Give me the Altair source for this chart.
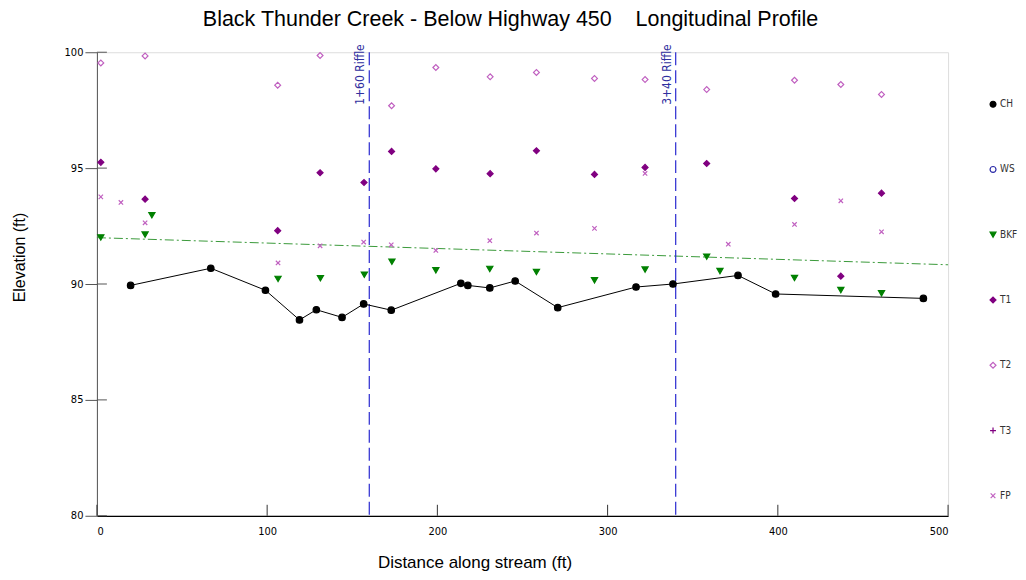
import altair as alt
import pandas as pd

# ---------------- data ----------------
series_names = ["CH", "WS", "BKF", "T1", "T2", "T3", "FP"]

ch_x = [19.8, 66.9, 99.0, 119.0, 128.9, 144.0, 156.7, 172.9, 213.8, 217.9, 230.8, 245.7, 270.7, 316.7, 338.4, 376.6, 398.7, 485.5]
ch_y = [89.94, 90.68, 89.73, 88.45, 88.89, 88.56, 89.14, 88.87, 90.03, 89.94, 89.83, 90.13, 88.98, 89.87, 90.00, 90.37, 89.57, 89.38]

bkf_x = [2.3, 28.3, 32.3, 106.4, 131.3, 157.1, 173.3, 199.1, 230.8, 258.2, 292.3, 322.0, 358.2, 366.0, 409.8, 437.0, 460.9]
bkf_y = [92.01, 92.13, 92.97, 90.22, 90.25, 90.40, 90.96, 90.59, 90.65, 90.52, 90.16, 90.62, 91.18, 90.56, 90.26, 89.74, 89.60]

t1_x = [2.3, 28.3, 106.2, 131.1, 156.9, 173.1, 199.1, 231.0, 258.2, 292.3, 322.0, 358.2, 409.8, 437.0, 460.9]
t1_y = [95.25, 93.66, 92.30, 94.80, 94.38, 95.72, 94.97, 94.76, 95.75, 94.73, 95.03, 95.20, 93.69, 90.34, 93.92]

t2_x = [2.3, 28.3, 106.2, 131.1, 173.1, 199.1, 231.0, 258.2, 292.3, 322.0, 358.2, 409.8, 437.0, 460.9]
t2_y = [99.54, 99.84, 98.58, 99.86, 97.69, 99.34, 98.94, 99.13, 98.87, 98.82, 98.39, 98.79, 98.61, 98.18]

fp_x = [2.3, 14.1, 28.3, 106.4, 131.1, 156.7, 172.9, 199.1, 230.8, 258.2, 292.3, 322.0, 370.9, 409.8, 437.0, 460.9]
fp_y = [93.76, 93.52, 92.64, 90.91, 91.65, 91.81, 91.69, 91.45, 91.87, 92.20, 92.40, 94.77, 91.72, 92.57, 93.59, 92.25]

fit_x = [0, 500]
fit_y = [92.0, 90.83]

riffle_x = [160, 340]
riffle_labels = ["1+60 Riffle", "3+40 Riffle"]

x_ticks = [0, 100, 200, 300, 400, 500]
y_ticks = [80, 85, 90, 95, 100]

# ---------------- tables ----------------
rows = []
for name, xs, ys in [("CH", ch_x, ch_y), ("BKF", bkf_x, bkf_y), ("T1", t1_x, t1_y),
                     ("T2", t2_x, t2_y), ("FP", fp_x, fp_y)]:
    for a, b in zip(xs, ys):
        rows.append({"series": name, "x": a, "y": b})
pts = pd.DataFrame(rows)
ch_df = pd.DataFrame({"x": ch_x, "y": ch_y})
fit_df = pd.DataFrame({"x": fit_x, "y": fit_y})
rif_df = pd.DataFrame({"x": riffle_x, "label": riffle_labels, "top": [100] * len(riffle_x), "bot": [80] * len(riffle_x)})
xt_df = pd.DataFrame({"x": x_ticks})
yt_df = pd.DataFrame({"y": y_ticks})
leg_df = pd.DataFrame({"series": series_names})

W, H = 852, 464
FONT = "Liberation Sans"
NARROW = "Liberation Sans Narrow, DejaVu Sans Condensed, Liberation Sans"

xscale = alt.Scale(domain=[0, 500], nice=False, zero=False)
yscale = alt.Scale(domain=[80, 100], nice=False, zero=False)

xax = alt.Axis(values=x_ticks, ticks=False, grid=False, domainColor="#000000", domainWidth=1.2,
               labelFont=NARROW, labelFontSize=11, labelColor="#000000", labelPadding=10,
               title="Distance along stream (ft)", titleFont=FONT, titleFontSize=17,
               titleFontWeight="normal", titleColor="#000000", titleX=378, titleY=52,
               titleAnchor="start", titleAlign="center", titleBaseline="alphabetic")
yax = alt.Axis(values=y_ticks, ticks=True, tickSize=12, tickColor="#555555", grid=False,
               domainColor="#555555", labelFont=NARROW, labelFontSize=11, labelColor="#000000",
               labelPadding=2, title="Elevation (ft)", titleFont=FONT, titleFontSize=16,
               titleFontWeight="normal", titleColor="#000000", titleX=-77, titleY=205,
               titleAnchor="start", titleAlign="center", titleBaseline="middle", titleAngle=270)

X = alt.X("x:Q", scale=xscale, axis=xax)
Y = alt.Y("y:Q", scale=yscale, axis=yax)

# inward tick marks
xtick = alt.Chart(xt_df).mark_rule(color="#333333", strokeWidth=1).encode(
    x=alt.X("x:Q", scale=xscale), y=alt.value(H), y2=alt.value(H - 11))
ytick = alt.Chart(yt_df).mark_rule(color="#555555", strokeWidth=1).encode(
    y=alt.Y("y:Q", scale=yscale), x=alt.value(0), x2=alt.value(10))

riffle = alt.Chart(rif_df).mark_rule(color="#2b2bd0", strokeWidth=1.2, strokeDash=[13, 5]).encode(
    x=alt.X("x:Q", scale=xscale), y=alt.Y("top:Q", scale=yscale), y2="bot:Q")
riffle_txt = alt.Chart(rif_df).mark_text(angle=270, align="right", baseline="bottom", dx=8, dy=-2,
                                         font=NARROW, fontSize=12, color="#3030a0").encode(
    x=alt.X("x:Q", scale=xscale), y=alt.Y("top:Q", scale=yscale), text="label:N")

fit = alt.Chart(fit_df).mark_line(color="#3a9a3a", strokeWidth=1, strokeDash=[9, 3, 2, 3]).encode(x=X, y=Y)
chline = alt.Chart(ch_df).mark_line(color="#000000", strokeWidth=1).encode(x=X, y=Y)

shapes = ["circle", "circle", "triangle-down", "diamond", "diamond",
          "M-1,0L1,0M0,-1L0,1", "M-0.8,-0.8L0.8,0.8M0.8,-0.8L-0.8,0.8"]
strokes = ["#000000", "#2a2aa8", "#008000", "#800080", "#c060c0", "#800080", "#c060c0"]
fills = ["#000000", "transparent", "#008000", "#800080", "transparent", "transparent", "transparent"]
sizes = [42, 30, 85, 60, 60, 80, 140]

shape_sc = alt.Scale(domain=series_names, range=shapes)
stroke_sc = alt.Scale(domain=series_names, range=strokes)
fill_sc = alt.Scale(domain=series_names, range=fills)

points = alt.Chart(pts).mark_point(filled=False, strokeWidth=1.2, opacity=1).encode(
    x=X, y=Y,
    shape=alt.Shape("series:N", scale=shape_sc, legend=None),
    stroke=alt.Stroke("series:N", scale=stroke_sc, legend=None),
    fill=alt.Fill("series:N", scale=fill_sc, legend=None),
    size=alt.Size("series:N", scale=alt.Scale(domain=series_names, range=sizes), legend=None),
)

main = alt.layer(fit, riffle, riffle_txt, chline, points, xtick, ytick)

# hand-made legend column to the right of the plot
leg_y = alt.Y("series:N", scale=alt.Scale(type="point", domain=series_names, range=[52, 444], padding=0), axis=None)
leg_pts = alt.Chart(leg_df).mark_point(filled=False, strokeWidth=1.2, opacity=1, size=35).encode(
    x=alt.value(897), y=leg_y,
    shape=alt.Shape("series:N", scale=shape_sc, legend=None),
    stroke=alt.Stroke("series:N", scale=stroke_sc, legend=None),
    fill=alt.Fill("series:N", scale=fill_sc, legend=None),
)
leg_txt = alt.Chart(leg_df).mark_text(align="left", baseline="middle", font=NARROW, fontSize=10,
                                      color="#333333").encode(
    x=alt.value(904), y=leg_y, text="series:N")
legend = alt.layer(leg_pts, leg_txt)

chart = alt.layer(main, legend).resolve_scale(y="independent").properties(
    width=W, height=H,
    title=alt.TitleParams("Black Thunder Creek - Below Highway 450\u00a0\u00a0\u00a0\u00a0Longitudinal Profile",
                          font=FONT, fontSize=21.5, fontWeight="normal", color="#000000",
                          anchor="middle", dx=-12, offset=14),
    autosize=alt.AutoSizeParams(type="none"),
    padding={"left": 89, "top": 44, "right": 70, "bottom": 56},
).configure_view(stroke=None).configure(background="#ffffff")

chart.save("out.html", embed_options={"renderer": "svg", "actions": False})
